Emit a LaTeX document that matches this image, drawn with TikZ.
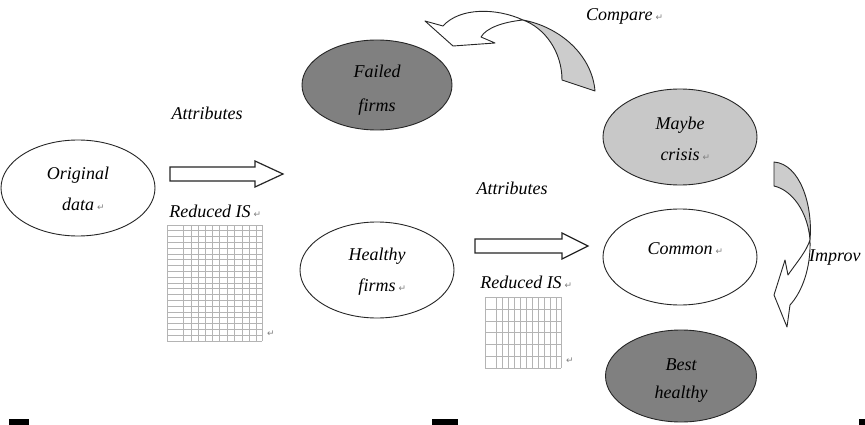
\documentclass[tikz,border=0pt]{standalone}
\usepackage{fontspec}
\setmainfont{Liberation Serif}
\newfontfamily\symf{DejaVu Sans}
\usetikzlibrary{shapes.geometric}
\definecolor{darkg}{HTML}{808080}
\definecolor{lightg}{HTML}{C8C8C8}
\definecolor{bandg}{HTML}{CCCCCC}
\definecolor{gridc}{HTML}{B4B4B4}
\newcommand\rmk{\rlap{\,{\symf\fontsize{9}{9}\selectfont\color{gray}↵}}}
\tikzset{
  oval/.style={ellipse, draw=black!85, line width=0.9pt, minimum width=154pt, minimum height=96pt,
    inner sep=0pt},
  ovaltext/.style={inner sep=0pt, align=center, font=\itshape\fontsize{18}{31}\selectfont},
  lab/.style={inner sep=0pt, font=\itshape\fontsize{18}{22}\selectfont},
  blockarrow/.style={draw=black!85, line width=1.2pt, fill=white, line join=miter},
  gridline/.style={draw=gridc, line width=0.8pt},
  curvedarrow/.style={draw=black!85, line width=0.9pt, line join=round},
  retnode/.style={inner sep=0pt, font=\symf\fontsize{9}{9}\selectfont, text=gray},
}
\begin{document}
\begin{tikzpicture}[x=1pt,y=-1pt]
\useasboundingbox (0,0) rectangle (865,425);
\clip (0,0) rectangle (865,425);
\fill[white] (0,0) rectangle (865,425);

% ellipses
\node[oval, fill=white] (orig) at (78,188) {};
\node[oval, fill=darkg, minimum height=90pt, minimum width=150pt] (failed) at (377,85) {};
\node[oval, fill=white] (healthy) at (377,270) {};
\node[oval, fill=lightg] (maybe) at (680,137) {};
\node[oval, fill=white] (common) at (680,257) {};
\node[oval, fill=darkg, minimum height=92pt, minimum width=151pt] (best) at (681,376) {};

% ellipse texts
\node[ovaltext] (origt) at ([yshift=-1pt]orig.center) {Original\\data\rmk};
\node[ovaltext, font=\itshape\fontsize{18}{34}\selectfont] (failedt) at ([yshift=-5pt]failed.center) {Failed\\firms};
\node[ovaltext] (healthyt) at ([yshift=-2pt]healthy.center) {Healthy\\firms\rmk};
\node[ovaltext] (maybet) at ([yshift=-2pt]maybe.center) {Maybe\\crisis\rmk};
\node[ovaltext] (commont) at ([yshift=8pt]common.center) {Common\rmk};
\node[ovaltext, font=\itshape\fontsize{18}{28}\selectfont] (bestt) at ([yshift=-5pt]best.center) {Best\\healthy};

% block arrows
\draw[blockarrow] (170,167) -- (255,167) -- (255,161) -- (283,174) -- (255,187) -- (255,181) -- (170,181) -- cycle;
\draw[blockarrow] (475,239) -- (562,239) -- (562,233) -- (588,246) -- (562,259) -- (562,253) -- (475,253) -- cycle;

% labels
\node[lab] (attr1) at (207,113) {Attributes};
\node[lab] (red1) at (210,211) {Reduced IS\rmk};
\node[lab] (attr2) at (512,188) {Attributes};
\node[lab] (red2) at (521,282) {Reduced IS\rmk};
\node[lab, anchor=west] (cmp) at (586,16) {Compare\rmk};
\node[lab, anchor=west] (imp) at (809,258) {Improv};

% grid 1
\foreach \x in {167,183,191,198,205,212,219,227,234,242,249,256,262}
  \draw[gridline] (\x,225) -- (\x,341);
\foreach \i in {0,...,20}
  \draw[gridline] (167,225+\i*5.8) -- (262,225+\i*5.8);
\node[retnode] (ret1) at (271,334) {↵};

% grid 2
\foreach \x in {485,496,502,508,514,520,526,532,538,544,550,556,561}
  \draw[gridline] (\x,297) -- (\x,368);
\foreach \y in {297,309,321,332,344,356,368}
  \draw[gridline] (485,\y) -- (561,\y);
\node[retnode] (ret2) at (570,361) {↵};

% compare curved arrow
\draw[curvedarrow, fill=bandg] (562,80) -- (595,91) .. controls (592,55) and (560,27) .. (523,20)
   .. controls (545,28) and (562,52) .. cycle;
\draw[curvedarrow, fill=white] (523,20) .. controls (497,8) and (460,7) .. (443,26)
   -- (425,21) -- (453,46) -- (495,43) -- (481,37)
   .. controls (486,28) and (503,22) .. cycle;

% improve curved arrow
\draw[curvedarrow, fill=bandg] (774,186) -- (774,162) .. controls (800,164) and (813,205) .. (810,240)
   .. controls (808,212) and (792,190) .. cycle;
\draw[curvedarrow, fill=white] (810,240) .. controls (811,268) and (802,292) .. (790,305)
   -- (787,327) -- (774,295) -- (785,260) -- (788,275)
   .. controls (797,262) and (806,252) .. cycle;

% black marks at bottom
\fill[black] (9,419) rectangle (29,425);
\fill[black] (432,419) rectangle (458,425);
\fill[black] (859,419) rectangle (865,425);
\end{tikzpicture}
\end{document}
